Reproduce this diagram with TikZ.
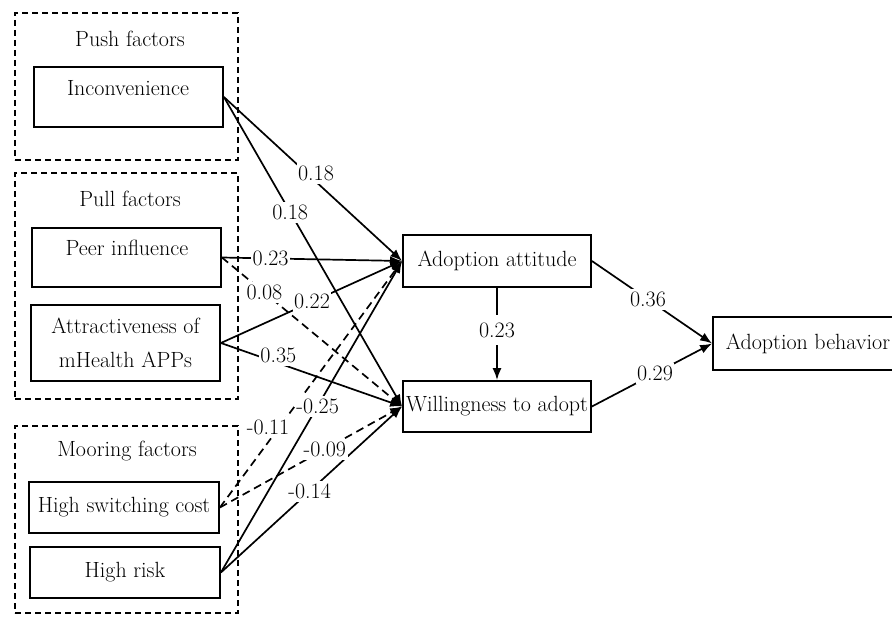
\documentclass[tikz,border=0pt]{standalone}
\usepackage{fontspec}
\usetikzlibrary{arrows.meta}
\begin{document}
\begin{tikzpicture}[x=1pt,y=-1pt,
  txt/.style={font=\fontsize{22}{34}\selectfont, inner sep=0pt, align=center},
  box/.style={draw, line width=1.8pt, inner sep=0pt, font=\fontsize{22}{34}\selectfont, align=center},
  grp/.style={draw, line width=1.4pt, dash pattern=on 6pt off 4pt, inner sep=0pt},
  arr/.style={line width=1.7pt, -{Latex[length=12pt,width=9pt]}},
  darr/.style={arr, dash pattern=on 8pt off 5pt},
  lbl/.style={font=\fontsize{22}{26}\selectfont, fill=white, inner xsep=1.5pt, inner ysep=3pt}
]
\useasboundingbox (0,0) rectangle (892,617);
% groups
\node[grp, minimum width=223pt, minimum height=147pt] (gpush) at (126.5,86.5) {};
\node[grp, minimum width=223pt, minimum height=226pt] (gpull) at (126.5,286) {};
\node[grp, minimum width=223pt, minimum height=187pt] (gmoor) at (126.5,519.5) {};
\node[txt] (tpush) at (130,39) {Push factors};
\node[txt] (tpull) at (130,199) {Pull factors};
\node[txt] (tmoor) at (127,451) {Mooring factors};
% boxes
\node[box, minimum width=189pt, minimum height=60pt] (inc) at (128.5,97) {};
\node[txt] (tinc) at (128,88) {Inconvenience};
\node[box, minimum width=189pt, minimum height=59pt] (peer) at (126.5,257.5) {};
\node[txt] (tpeer) at (127,248) {Peer influence};
\node[box, minimum width=189pt, minimum height=76pt] (attr) at (125.5,343) {Attractiveness of\\mHealth APPs};
\node[box, minimum width=190pt, minimum height=51pt] (hsc) at (124,507.5) {High switching cost};
\node[box, minimum width=190pt, minimum height=51pt] (hr) at (125,572.5) {High risk};
\node[box, minimum width=188pt, minimum height=52pt] (aa) at (497,261) {Adoption attitude};
\node[box, minimum width=188pt, minimum height=51pt] (wa) at (497,406.5) {Willingness to adopt};
\node[box, minimum width=187pt, minimum height=53pt] (ab) at (806.5,343.5) {\hspace*{3pt}Adoption behavior};
% connectors
\draw[arr] (inc.east) -- (aa.west);
\draw[arr] (inc.east) -- (wa.west);
\draw[arr] (peer.east) -- (aa.west);
\draw[darr] (peer.east) -- (wa.west);
\draw[arr] (attr.east) -- (aa.west);
\draw[arr] (attr.east) -- (wa.west);
\draw[darr] (hsc.east) -- (aa.west);
\draw[darr] (hsc.east) -- (wa.west);
\draw[arr] (hr.east) -- (aa.west);
\draw[arr] (hr.east) -- (wa.west);
\draw[arr] (aa.south) -- (wa.north);
\draw[arr] (aa.east) -- (ab.west);
\draw[arr] (wa.east) -- (ab.west);
% labels
\path (inc.east) -- node[lbl, pos=0.517, yshift=8pt] (l1) {0.18} (aa.west);
\path (inc.east) -- node[lbl, pos=0.372] (l2) {0.18} (wa.west);
\path (peer.east) -- node[lbl, pos=0.27] (l3) {0.23} (aa.west);
\path (peer.east) -- node[lbl, pos=0.236] (l4) {0.08} (wa.west);
\path (attr.east) -- node[lbl, pos=0.503] (l5) {0.22} (aa.west);
\path (attr.east) -- node[lbl, pos=0.317, yshift=8pt] (l6) {0.35} (wa.west);
\path (hsc.east) -- node[lbl, pos=0.325, xshift=-11pt] (l7) {-0.11} (aa.west);
\path (hsc.east) -- node[lbl, pos=0.576] (l8) {-0.09} (wa.west);
\path (hr.east) -- node[lbl, pos=0.534] (l9) {-0.25} (aa.west);
\path (hr.east) -- node[lbl, pos=0.49] (l10) {-0.14} (wa.west);
\path (aa.south) -- node[lbl, pos=0.457, inner ysep=8pt] (l11) {0.23} (wa.north);
\path (aa.east) -- node[lbl, pos=0.467] (l12) {0.36} (ab.west);
\path (wa.east) -- node[lbl, pos=0.525] (l13) {0.29} (ab.west);
\end{tikzpicture}
\end{document}
